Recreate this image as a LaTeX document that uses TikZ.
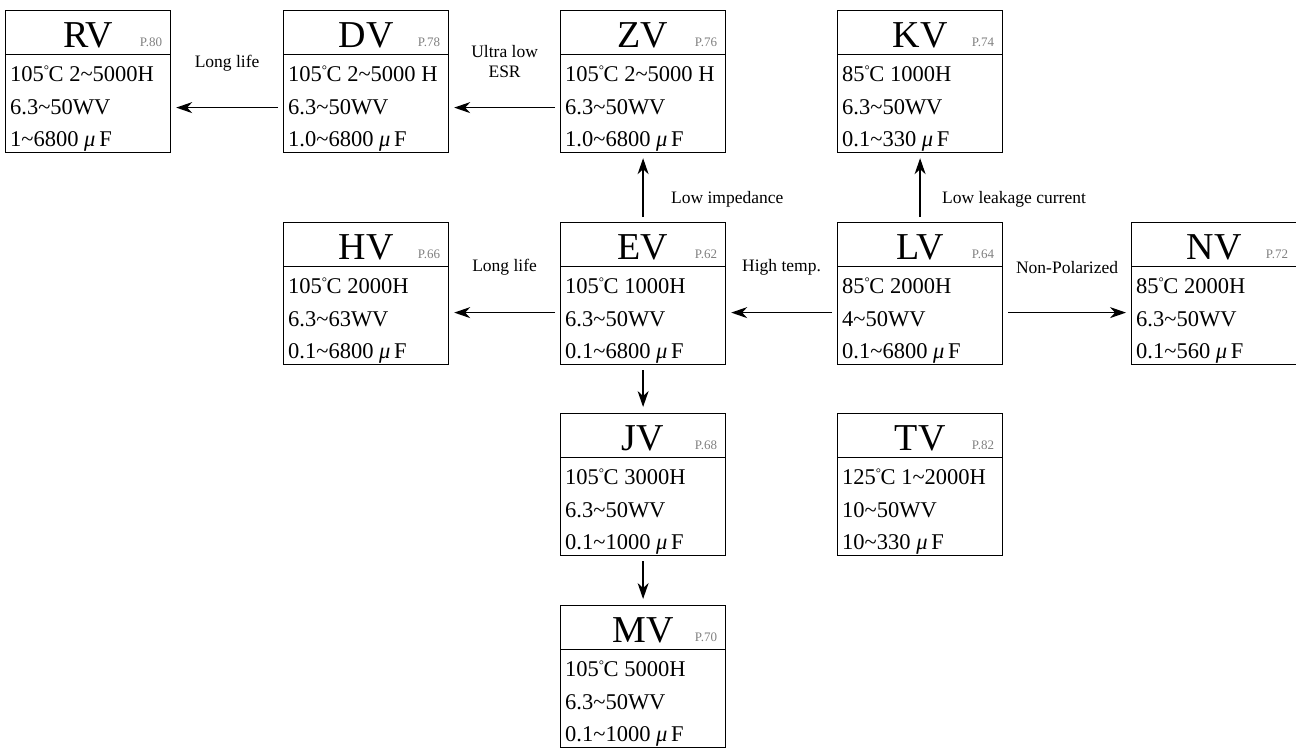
\documentclass[tikz,border=0pt]{standalone}
\usepackage{fontspec}
\setmainfont{Liberation Serif}
\usepackage{tikz}
\usetikzlibrary{arrows.meta,calc,positioning}

\newcommand{\tl}{\textasciitilde}
\newcommand{\uF}{\textit{μ}\,F}
\newcommand{\dC}{\raisebox{0.28em}{\fontsize{13}{13}\selectfont °}\kern-0.5pt C}
% one series box: name, top-left corner, title, page, three spec lines
\newcommand{\capbox}[7]{%
  \node[capframe] (#1) at (#2) {};
  \draw[thick] ([yshift=-44pt]#1.north west) -- ([yshift=-44pt]#1.north east);
  \node[capname] (#1-name) at ([yshift=-37pt]#1.north) {#3};
  \node[capref] (#1-ref) at ([shift={(-9pt,-36pt)}]#1.north east) {P.#4};
  \node[capspec] (#1-a) at ([shift={(5pt,-71pt)}]#1.north west) {#5};
  \node[capspec] (#1-b) at ([shift={(5pt,-104pt)}]#1.north west) {#6};
  \node[capspec] (#1-c) at ([shift={(5pt,-136pt)}]#1.north west) {#7};
}

\begin{document}
\begin{tikzpicture}[
  x=1pt, y=1pt,
  capframe/.style={draw, line width=1.2pt, anchor=north west, inner sep=0pt,
    minimum width=165pt, minimum height=142pt},
  capname/.style={anchor=base, inner sep=0pt, font=\fontsize{38}{40}\selectfont},
  capref/.style={anchor=base east, inner sep=0pt, text=black!50,
    font=\fontsize{13}{15}\selectfont},
  capspec/.style={anchor=base west, inner sep=0pt,
    font=\fontsize{22.5}{26}\selectfont},
  link/.style={-{Stealth[length=16pt,width=11pt,inset=5pt]}, line width=1.3pt},
  note/.style={font=\fontsize{17.5}{20}\selectfont, align=center},
]
  \useasboundingbox (0,0) rectangle (1296,-748);
  % Top row
  \capbox{rv}{5,-10}{RV}{80}{105\dC\ 2\tl5000H}{6.3\tl50WV}{1\tl6800 \uF}
  \capbox{dv}{283,-10}{DV}{78}{105\dC\ 2\tl5000 H}{6.3\tl50WV}{1.0\tl6800 \uF}
  \capbox{zv}{560,-10}{ZV}{76}{105\dC\ 2\tl5000 H}{6.3\tl50WV}{1.0\tl6800 \uF}
  \capbox{kv}{837,-10}{KV}{74}{85\dC\ 1000H}{6.3\tl50WV}{0.1\tl330 \uF}
  % Middle row
  \capbox{hv}{283,-222}{HV}{66}{105\dC\ 2000H}{6.3\tl63WV}{0.1\tl6800 \uF}
  \capbox{ev}{560,-222}{EV}{62}{105\dC\ 1000H}{6.3\tl50WV}{0.1\tl6800 \uF}
  \capbox{lv}{837,-222}{LV}{64}{85\dC\ 2000H}{4\tl50WV}{0.1\tl6800 \uF}
  \capbox{nv}{1131,-222}{NV}{72}{85\dC\ 2000H}{6.3\tl50WV}{0.1\tl560 \uF}
  % Lower rows
  \capbox{jv}{560,-413}{JV}{68}{105\dC\ 3000H}{6.3\tl50WV}{0.1\tl1000 \uF}
  \capbox{tv}{837,-413}{TV}{82}{125\dC\ 1\tl2000H}{10\tl50WV}{10\tl330 \uF}
  \capbox{mv}{560,-605}{MV}{70}{105\dC\ 5000H}{6.3\tl50WV}{0.1\tl1000 \uF}

  % Arrows, top row
  \draw[link] ([shift={(-5pt,-26pt)}]dv.west) -- ([shift={(5pt,-26pt)}]rv.east)
    node[note, midway, yshift=44pt] (l-rv) {Long life};
  \draw[link] ([shift={(-5pt,-26pt)}]zv.west) -- ([shift={(5pt,-26pt)}]dv.east)
    node[note, midway, yshift=46pt] (l-dv) {Ultra low\\ESR};
  % Arrows, middle row
  \draw[link] ([shift={(-5pt,-19pt)}]ev.west) -- ([shift={(5pt,-19pt)}]hv.east)
    node[note, midway, yshift=45pt] (l-hv) {Long life};
  \draw[link] ([shift={(-5pt,-19pt)}]lv.west) -- ([shift={(5pt,-19pt)}]ev.east)
    node[note, midway, yshift=45pt] (l-ev) {High temp.};
  \draw[link] ([shift={(5pt,-19pt)}]lv.east) -- ([shift={(-5pt,-19pt)}]nv.west)
    node[note, midway, yshift=45pt] (l-nv) {Non-Polarized};
  % Upward arrows
  \draw[link] ([yshift=5pt]ev.north) -- ([yshift=-5pt]zv.south)
    node[note, pos=0.3, anchor=west, xshift=24pt] (l-zv) {Low impedance};
  \draw[link] ([yshift=5pt]lv.north) -- ([yshift=-5pt]kv.south)
    node[note, pos=0.3, anchor=west, xshift=18pt] (l-kv) {Low leakage current};
  % Downward arrows
  \draw[link] ([yshift=-5pt]ev.south) -- ([yshift=6pt]jv.north);
  \draw[link] ([yshift=-5pt]jv.south) -- ([yshift=6pt]mv.north);
\end{tikzpicture}
\end{document}
